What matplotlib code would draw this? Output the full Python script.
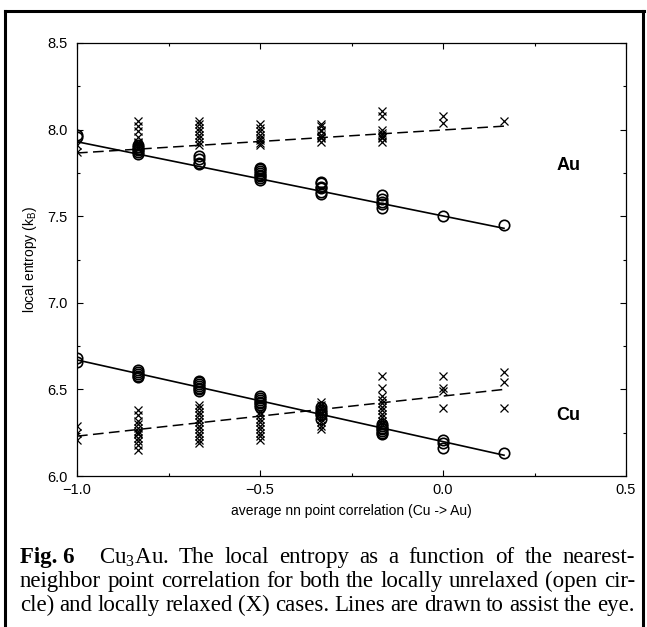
import matplotlib
matplotlib.use("Agg")
import matplotlib.pyplot as plt
from matplotlib.ticker import MultipleLocator
from matplotlib.lines import Line2D

plt.rcParams['font.family'] = ['Liberation Sans', 'DejaVu Sans']
plt.rcParams['mathtext.fontset'] = 'custom'
plt.rcParams['mathtext.rm'] = 'Liberation Serif'
plt.rcParams['mathtext.sf'] = 'Liberation Sans'

# nearest-neighbour point correlation values
corr = [-1.0, -5/6, -2/3, -1/2, -1/3, -1/6, 0.0, 1/6]

# local entropy per configuration (k_B), one list per correlation value
au_unrelaxed = [
    [7.96, 7.97],
    [7.86, 7.87, 7.88, 7.89, 7.90, 7.91],
    [7.80, 7.81, 7.83, 7.85],
    [7.71, 7.72, 7.73, 7.74, 7.75, 7.76, 7.77, 7.78],
    [7.63, 7.64, 7.66, 7.67, 7.69, 7.70],
    [7.55, 7.57, 7.58, 7.60, 7.62],
    [7.50],
    [7.45],
]
au_relaxed = [
    [7.87, 7.91],
    [7.89, 7.90, 7.91, 7.92, 7.93, 7.96, 7.99, 8.02, 8.05],
    [7.91, 7.93, 7.95, 7.97, 7.99, 8.01, 8.03, 8.05],
    [7.91, 7.92, 7.94, 7.95, 7.97, 7.99, 8.01, 8.03],
    [7.93, 7.95, 7.96, 7.97, 7.99, 8.00, 8.02, 8.03],
    [7.93, 7.95, 7.96, 7.97, 7.98, 8.00, 8.08, 8.11],
    [8.04, 8.08],
    [8.05],
]
cu_unrelaxed = [
    [6.66, 6.68],
    [6.57, 6.58, 6.59, 6.60, 6.61],
    [6.49, 6.50, 6.51, 6.52, 6.53, 6.54, 6.55],
    [6.40, 6.41, 6.42, 6.43, 6.44, 6.45, 6.46],
    [6.33, 6.35, 6.36, 6.37, 6.38, 6.40],
    [6.24, 6.25, 6.26, 6.27, 6.28, 6.29, 6.30],
    [6.16, 6.19, 6.21],
    [6.13],
]
cu_relaxed = [
    [6.21, 6.25, 6.29],
    [6.15, 6.18, 6.20, 6.22, 6.24, 6.25, 6.26, 6.28, 6.30, 6.32, 6.35, 6.38],
    [6.19, 6.21, 6.23, 6.25, 6.27, 6.29, 6.31, 6.33, 6.35, 6.37, 6.39, 6.41],
    [6.21, 6.23, 6.25, 6.27, 6.29, 6.31, 6.33, 6.35, 6.37],
    [6.27, 6.29, 6.31, 6.33, 6.35, 6.37, 6.39, 6.41, 6.43],
    [6.30, 6.32, 6.34, 6.36, 6.38, 6.40, 6.42, 6.44, 6.46, 6.51, 6.58],
    [6.39, 6.49, 6.51, 6.58],
    [6.39, 6.54, 6.60],
]

# guide lines (drawn to assist the eye), ends at first and last correlation
line_x = [-1.0, 1/6]
au_unrelaxed_line = [7.93, 7.43]
au_relaxed_line = [7.865, 8.02]
cu_unrelaxed_line = [6.67, 6.12]
cu_relaxed_line = [6.23, 6.50]


def flatten(groups):
    xs, ys = [], []
    for c, vals in zip(corr, groups):
        xs += [c] * len(vals)
        ys += vals
    return xs, ys


W, H = 647, 627
fig = plt.figure(figsize=(W / 100, H / 100), dpi=100)
ax = fig.add_axes([77 / W, 1 - 476 / H, 549 / W, 433 / H])

for groups in (au_unrelaxed, cu_unrelaxed):
    x, y = flatten(groups)
    ax.plot(x, y, 'o', ms=7.5, mfc='none', mec='black', mew=1.2)
for groups in (au_relaxed, cu_relaxed):
    x, y = flatten(groups)
    ax.plot(x, y, 'x', ms=5.5, mec='black', mew=0.9)

ax.plot(line_x, au_unrelaxed_line, '-', color='black', lw=1.2)
ax.plot(line_x, cu_unrelaxed_line, '-', color='black', lw=1.2)
ax.plot(line_x, au_relaxed_line, '--', color='black', lw=1.1, dashes=(7, 3.5))
ax.plot(line_x, cu_relaxed_line, '--', color='black', lw=1.1, dashes=(7, 3.5))

ax.text(0.31, 7.79, 'Au', fontsize=13, fontweight='bold', va='center')
ax.text(0.31, 6.35, 'Cu', fontsize=13, fontweight='bold', va='center')

ax.set_xlim(-1.0, 0.5)
ax.set_ylim(6.0, 8.5)
ax.xaxis.set_major_locator(MultipleLocator(0.5))
ax.xaxis.set_minor_locator(MultipleLocator(0.25))
ax.yaxis.set_major_locator(MultipleLocator(0.5))
ax.yaxis.set_minor_locator(MultipleLocator(0.25))
ax.xaxis.set_major_formatter(lambda v, p: f"{v:.1f}".replace('-', '\u2212'))
ax.yaxis.set_major_formatter(lambda v, p: f"{v:.1f}")
ax.tick_params(which='both', direction='in', top=True, right=True, width=0.8)
ax.tick_params(which='major', length=4, labelsize=10.5)
ax.tick_params(which='minor', length=2.5)
ax.tick_params(axis='x', pad=5)
ax.tick_params(axis='y', pad=7)
for s in ax.spines.values():
    s.set_linewidth(0.9)

ax.set_xlabel('average nn point correlation (Cu -> Au)', fontsize=10, labelpad=5)
ax.set_ylabel(r'local entropy (k$_\mathsf{B}$)', fontsize=10, labelpad=6)

# page frame
for xs, ys in (([5, 644], [11, 11]), ([5, 5], [11, 627]), ([643, 643], [11, 627])):
    fig.add_artist(Line2D([v / W for v in xs], [1 - v / H for v in ys],
                          color='black', lw=2.2))

# justified caption
caption = [
    [('Fig. 6', 'bold'), ('Cu$_3$Au.', 'normal'), ('The', 'normal'), ('local', 'normal'),
     ('entropy', 'normal'), ('as', 'normal'), ('a', 'normal'), ('function', 'normal'),
     ('of', 'normal'), ('the', 'normal'), ('nearest-', 'normal')],
    [(w, 'normal') for w in 'neighbor point correlation for both the locally unrelaxed (open cir-'.split()],
    [(w, 'normal') for w in 'cle) and locally relaxed (X) cases. Lines are drawn to assist the eye.'.split()],
]
baselines = [563, 587, 611]
x0, x1 = 20, 635
renderer = fig.canvas.get_renderer()
for words, yb in zip(caption, baselines):
    texts = [fig.text(0, 1 - yb / H, w, fontsize=16.5, fontweight=wt,
                      family=['Liberation Serif', 'DejaVu Serif'], va='baseline')
             for w, wt in words]
    widths = [t.get_window_extent(renderer).width for t in texts]
    extra = 14 if words[0][0] == 'Fig. 6' else 0
    gap = (x1 - x0 - sum(widths) - extra) / (len(texts) - 1)
    xpos = x0
    for i, (t, w) in enumerate(zip(texts, widths)):
        t.set_x(xpos / W)
        xpos += w + gap + (extra if i == 0 else 0)

fig.savefig('out.png', dpi=100)
